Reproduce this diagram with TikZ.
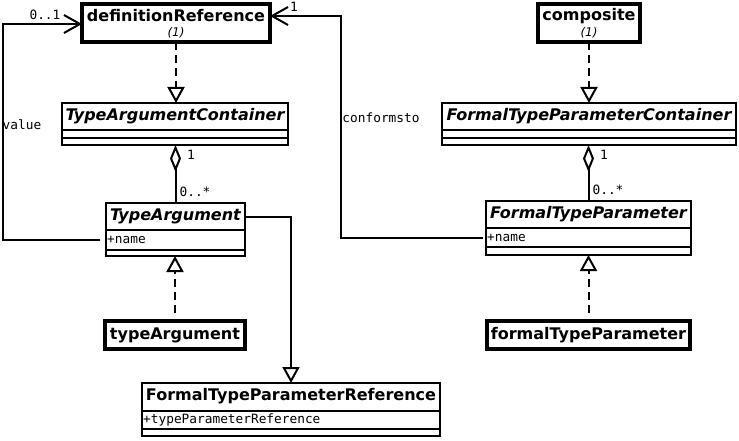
\documentclass[tikz,border=0pt]{standalone}
\usepackage{fontspec}
\setmainfont{DejaVu Sans}
\setmonofont{DejaVu Sans Mono}
\usetikzlibrary{arrows.meta,calc}
\begin{document}
\begin{tikzpicture}[x=1pt,y=-1pt,
  cls/.style={draw, line width=2pt, inner sep=0pt, outer sep=0pt, anchor=north west, rectangle},
  obj/.style={draw, line width=3.6pt, inner sep=0pt, outer sep=0pt, anchor=north west, rectangle},
  ttl/.style={font=\fontsize{16}{18}\selectfont\bfseries\itshape, inner sep=0pt},
  ottl/.style={font=\fontsize{16}{18}\selectfont\bfseries, inner sep=0pt},
  mult/.style={font=\fontsize{12}{13}\selectfont\itshape, inner sep=0pt},
  attr/.style={font=\fontsize{12.8}{14}\selectfont\ttfamily, inner sep=0pt, anchor=west},
  lbl/.style={font=\fontsize{12.8}{14}\selectfont\ttfamily, inner sep=0pt},
  sep/.style={line width=2pt},
  conn/.style={line width=2pt},
  real/.style={conn, dash pattern=on 8pt off 5pt, -{Triangle[open, length=16pt, width=17pt, fill=white, line width=2pt]}},
  gen/.style={conn, -{Triangle[open, length=16pt, width=17pt, fill=white, line width=2pt]}},
  aggr/.style={conn, -{Diamond[open, length=27pt, width=11pt, fill=white, line width=2pt]}},
  nav/.style={conn, -{Straight Barb[length=16pt, width=18pt, line width=2pt]}}
]
\useasboundingbox (0,0) rectangle (739,441);

% object boxes
\node[obj, minimum width=188pt, minimum height=38pt] (dr) at (82,4) {};
\node[ottl] (drt) at (176,16) {definitionReference};
\node[mult] (drm) at (176,33) {(1)};

\node[obj, minimum width=102pt, minimum height=38pt] (comp) at (538,4) {};
\node[ottl] (compt) at (589,16) {composite};
\node[mult] (compm) at (589,33) {(1)};

\node[obj, minimum width=140pt, minimum height=28pt] (tao) at (105,321) {};
\node[ottl] (taot) at (175,335) {typeArgument};

\node[obj, minimum width=203pt, minimum height=28pt] (ftpo) at (487,321) {};
\node[ottl] (ftpot) at (588.5,335) {formalTypeParameter};

% class boxes
\node[cls, minimum width=226pt, minimum height=42pt] (tac) at (62,103) {};
\node[ttl] (tact) at (175,116.5) {TypeArgumentContainer};
\draw[sep] (tac.west |- 0,130) -- (tac.east |- 0,130);
\draw[sep] (tac.west |- 0,138) -- (tac.east |- 0,138);

\node[cls, minimum width=294pt, minimum height=42pt] (ftpc) at (442,103) {};
\node[ttl] (ftpct) at (589,116.5) {FormalTypeParameterContainer};
\draw[sep] (ftpc.west |- 0,130) -- (ftpc.east |- 0,130);
\draw[sep] (ftpc.west |- 0,138) -- (ftpc.east |- 0,138);

\node[cls, minimum width=139pt, minimum height=53pt] (ta) at (106,203) {};
\node[ttl] (tat) at (175.5,216.5) {TypeArgument};
\draw[sep] (ta.west |- 0,230) -- (ta.east |- 0,230);
\draw[sep] (ta.west |- 0,250) -- (ta.east |- 0,250);
\node[attr] (taa) at (107,240) {+name};

\node[cls, minimum width=205pt, minimum height=54pt] (ftp) at (486,201) {};
\node[ttl] (ftpt) at (588.5,214.5) {FormalTypeParameter};
\draw[sep] (ftp.west |- 0,228) -- (ftp.east |- 0,228);
\draw[sep] (ftp.west |- 0,247) -- (ftp.east |- 0,247);
\node[attr] (ftpa) at (487,238) {+name};

\node[cls, minimum width=298pt, minimum height=53pt] (ftpr) at (142,383) {};
\node[ottl] (ftprt) at (291,396.5) {FormalTypeParameterReference};
\draw[sep] (ftpr.west |- 0,411) -- (ftpr.east |- 0,411);
\draw[sep] (ftpr.west |- 0,429) -- (ftpr.east |- 0,429);
\node[attr] (ftpra) at (143,420) {+typeParameterReference};

% connectors
\draw[real] (dr.south) -- (dr.south |- tac.north);
\draw[real] (comp.south) -- (comp.south |- ftpc.north);
\draw[aggr] (ta.north) -- (ta.north |- tac.south);
\draw[aggr] (ftp.north) -- (ftp.north |- ftpc.south);
\draw[real] (tao.north |- 0,313) -- (tao.north |- ta.south);
\draw[real] (ftpo.north |- 0,313) -- (ftpo.north |- ftp.south);
\draw[gen] (ta.east |- tat) -| (ftpr.north);

\coordinate (v1) at (3,240);
\coordinate (v2) at (3,24);
\draw[nav] ([xshift=-6pt]ta.west |- taa) -- (v1) -- (v2) -- (dr.west |- v2);

\coordinate (c1) at (341,238);
\coordinate (c2) at (341,16);
\draw[nav] ([xshift=-3pt]ftp.west |- ftpa) -- (c1) -- (c2) -- (dr.east |- c2);

% labels
\node[lbl] (l01) at (45,15) {0..1};
\node[lbl] (lval) at (22,125) {value};
\node[lbl] (l1a) at (294,7) {1};
\node[lbl] (lconf) at (381,118) {conformsto};
\node[lbl] (l1b) at (191,155) {1};
\node[lbl] (l0sa) at (195,192) {0..*};
\node[lbl] (l1c) at (604,155) {1};
\node[lbl] (l0sb) at (608,190) {0..*};
\end{tikzpicture}
\end{document}
